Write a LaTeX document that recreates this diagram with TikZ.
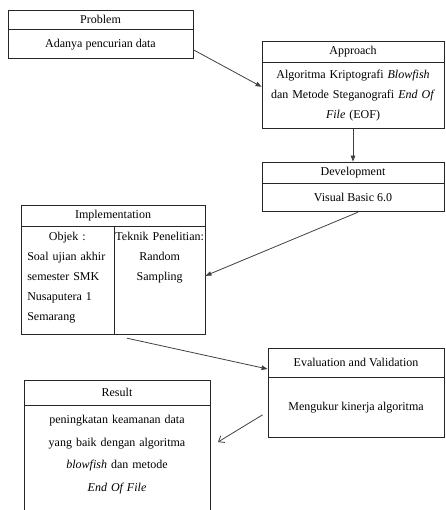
\documentclass[tikz,border=0pt]{standalone}
\usepackage{fontspec}
\setmainfont{Liberation Serif}
\usetikzlibrary{positioning, arrows.meta}

\begin{document}
\begin{tikzpicture}[
    x=1pt, y=-1pt,
    >={Triangle[length=6pt, width=4.5pt]},
    font=\fontsize{12}{20}\selectfont,
    boxhead/.style={draw=black!85, line width=0.8pt, inner sep=0pt, align=center},
    boxbody/.style={draw=black!85, line width=0.8pt, inner sep=0pt, align=center},
    colbox/.style={inner xsep=6.5pt, inner ysep=6pt},
    flow/.style={->, line width=0.8pt, draw=black!75}
]
\useasboundingbox (0,0) rectangle (445,510);
\clip (0,0) rectangle (445,510);

% Problem
\node[boxhead, minimum width=185, minimum height=19] (probhead) at (100.5,19.5) {Problem};
\node[boxbody, below=0pt of probhead, minimum width=185, minimum height=29] (probbody) {Adanya pencurian data};

% Approach
\node[boxhead, minimum width=182, minimum height=21] (apphead) at (353,51.5) {Approach};
\node[boxbody, below=0pt of apphead, minimum width=182, minimum height=66, text width=176] (appbody)
    {Algoritma Kriptografi \textit{Blowfish}\\ dan Metode Steganografi \textit{End Of}\\ \textit{File} (EOF)};

% Development
\node[boxhead, minimum width=182, minimum height=21] (devhead) at (353,172.5) {Development};
\node[boxbody, below=0pt of devhead, minimum width=182, minimum height=28] (devbody) {Visual Basic 6.0};

% Implementation
\node[boxhead, minimum width=184, minimum height=21] (imphead) at (113,215.5) {Implementation};
\node[boxbody, below=0pt of imphead, minimum width=184, minimum height=108] (impbody) {};
\node[colbox, anchor=north west, text width=80, align=left] (impleft) at (impbody.north west)
    {\makebox[\linewidth]{Objek :}\\ Soal ujian akhir\\ semester SMK\\ Nusaputera 1\\ Semarang};
\node[colbox, anchor=north east, text width=89, inner xsep=1pt, align=center] (impright) at (impbody.north east)
    {Teknik Penelitian:\\ Random\\ Sampling};
\draw[line width=0.8pt, draw=black!85] (impright.west |- impbody.north) -- (impright.west |- impbody.south);

% Evaluation and Validation
\node[boxhead, minimum width=176, minimum height=29] (evalhead) at (356,362.5) {Evaluation and Validation};
\node[boxbody, below=0pt of evalhead, minimum width=176, minimum height=60] (evalbody) {Mengukur kinerja algoritma};

% Result
\node[boxhead, minimum width=186, minimum height=25] (reshead) at (117,392.5) {Result};
\node[boxbody, below=0pt of reshead, minimum width=186, minimum height=140, text width=180,
      font=\fontsize{12}{22.5}\selectfont] (resbody)
    {peningkatan keamanan data\\ yang baik dengan algoritma\\ \textit{blowfish} dan metode\\ \textit{End Of File}\\ \mbox{}\\ \mbox{}};

% alur
\draw[flow] ([yshift=-5.5pt]probbody.east) -- ([yshift=9pt]appbody.west);
\draw[flow] (appbody.south) -- (devhead.north);
\draw[flow] ([xshift=5pt]devbody.south) -- ([yshift=5pt]impbody.east);
\draw[flow] ([xshift=14pt,yshift=-3pt]impbody.south) -- ([yshift=-6.5pt]evalhead.west);
\coordinate (resarrow) at (218,442);
\draw[flow, -{Straight Barb[length=5pt, width=8pt]}] ([xshift=-5pt,yshift=-7pt]evalbody.west) -- (resarrow);

\end{tikzpicture}
\end{document}
